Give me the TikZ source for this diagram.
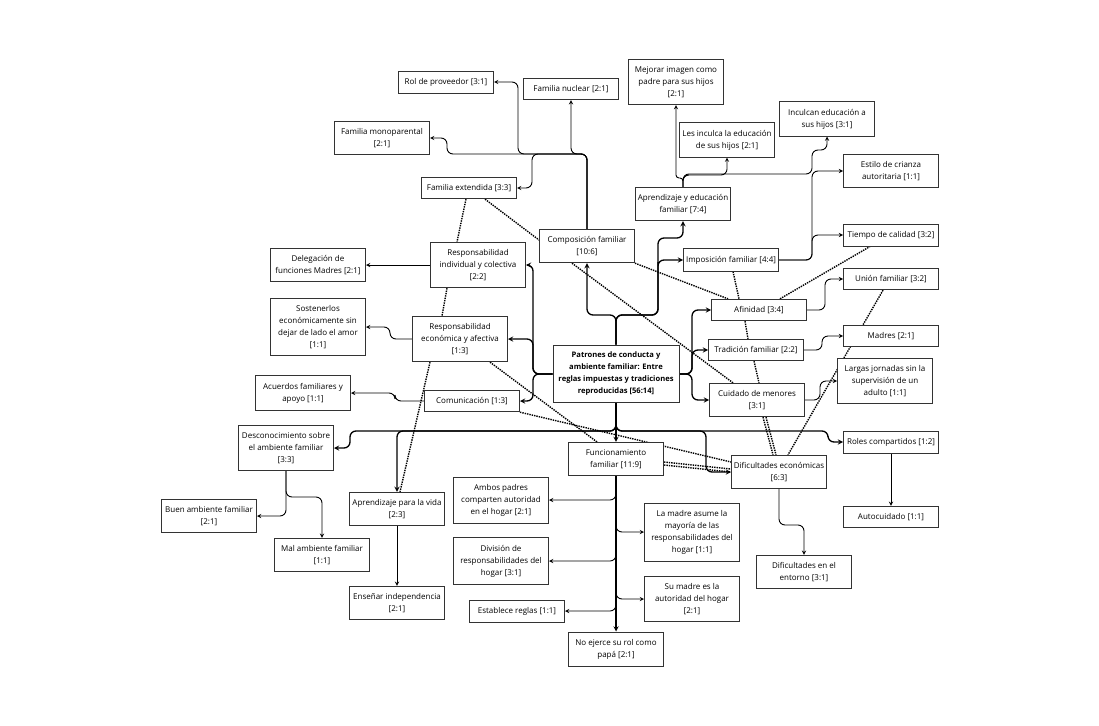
\documentclass[tikz,border=0pt]{standalone}
\usepackage{fontspec}
\setmainfont{Open Sans}
\usepackage{tikz}
\usetikzlibrary{backgrounds}

\begin{document}
\begin{tikzpicture}[x=1pt,y=-1pt,>=stealth,
    codebox/.style={draw=black!80,line width=1pt,fill=white,align=center,
      minimum width=95pt,inner xsep=2pt,inner ysep=7pt,
      font=\fontsize{8}{12}\selectfont},
    hubbox/.style={codebox,minimum width=126pt,
      font=\bfseries\fontsize{7.6}{12}\selectfont},
    link/.style={->,line width=0.9pt,rounded corners=6pt},
    trunk/.style={link,line width=1.3pt},
    assoc/.style={densely dotted,line width=1.4pt}]

  \useasboundingbox (0,0) rectangle (1099,725);

  % central code
  \node[hubbox] (central) at (616,374) {Patrones de conducta y\\ambiente familiar: Entre\\reglas impuestas y tradiciones\\reproducidas [56:14]};

  % upper part
  \node[codebox] (rol)      at (446,82)  {Rol de proveedor [3:1]};
  \node[codebox] (nuclear)  at (571,89)  {Familia nuclear [2:1]};
  \node[codebox] (mono)     at (382,138) {Familia monoparental\\{}[2:1]};
  \node[codebox] (ext)      at (469,188) {Familia extendida [3:3]};
  \node[codebox] (comp)     at (587,246) {Composición familiar\\{}[10:6]};
  \node[codebox] (mejorar)  at (676,82)  {Mejorar imagen como\\padre para sus hijos\\{}[2:1]};
  \node[codebox] (lesinc)   at (727,140) {Les inculca la educación\\de sus hijos [2:1]};
  \node[codebox] (inculcan) at (827,119) {Inculcan educación a\\sus hijos [3:1]};
  \node[codebox] (apred)    at (683,204) {Aprendizaje y educación\\familiar [7:4]};

  % right part
  \node[codebox] (estilo)  at (891,171) {Estilo de crianza\\autoritaria [1:1]};
  \node[codebox] (tiempo)  at (891,235) {Tiempo de calidad [3:2]};
  \node[codebox] (union)   at (891,279) {Unión familiar [3:2]};
  \node[codebox] (madres)  at (891,336) {Madres [2:1]};
  \node[codebox] (largas)  at (885,381) {Largas jornadas sin la\\supervisión de un\\adulto [1:1]};
  \node[codebox] (roles)   at (891,442) {Roles compartidos [1:2]};
  \node[codebox] (auto)    at (891,517) {Autocuidado [1:1]};
  \node[codebox] (impos)   at (731,260) {Imposición familiar [4:4]};
  \node[codebox] (afin)    at (759,310) {Afinidad [3:4]};
  \node[codebox] (trad)    at (756,350) {Tradición familiar [2:2]};
  \node[codebox] (cuidado) at (757,400) {Cuidado de menores\\{}[3:1]};
  \node[codebox] (difeco)  at (779,472) {Dificultades económicas\\{}[6:3]};
  \node[codebox] (entorno) at (804,572) {Dificultades en el\\entorno [3:1]};

  % left part
  \node[codebox] (respind)  at (478,265) {Responsabilidad\\individual y colectiva\\{}[2:2]};
  \node[codebox] (deleg)    at (318,265) {Delegación de\\funciones Madres [2:1]};
  \node[codebox] (respeco)  at (460,339) {Responsabilidad\\económica y afectiva\\{}[1:3]};
  \node[codebox] (sosten)   at (318,327) {Sostenerlos\\económicamente sin\\dejar de lado el amor\\{}[1:1]};
  \node[codebox] (comun)    at (472,401) {Comunicación [1:3]};
  \node[codebox] (acuerdos) at (303,393) {Acuerdos familiares y\\apoyo [1:1]};
  \node[codebox] (descon)   at (286,448) {Desconocimiento sobre\\el ambiente familiar\\{}[3:3]};
  \node[codebox] (buen)     at (209,516) {Buen ambiente familiar\\{}[2:1]};
  \node[codebox] (mal)      at (322,555) {Mal ambiente familiar\\{}[1:1]};
  \node[codebox] (aprvida)  at (397,509) {Aprendizaje para la vida\\{}[2:3]};
  \node[codebox] (ensenar)  at (397,603) {Enseñar independencia\\{}[2:1]};

  % lower part
  \node[codebox] (func)     at (616,459) {Funcionamiento\\familiar [11:9]};
  \node[codebox] (ambos)    at (501,500) {Ambos padres\\comparten autoridad\\en el hogar [2:1]};
  \node[codebox] (division) at (501,561) {División de\\responsabilidades del\\hogar [3:1]};
  \node[codebox] (estab)    at (517,611) {Establece reglas [1:1]};
  \node[codebox] (lamadre)  at (692,532) {La madre asume la\\mayoría de las\\responsabilidades del\\hogar [1:1]};
  \node[codebox] (sumadre)  at (692,599) {Su madre es la\\autoridad del hogar\\{}[2:1]};
  \node[codebox] (noejerce) at (616,649) {No ejerce su rol como\\papá [2:1]};

  \begin{scope}[on background layer]
    % links from the central code
    \draw[trunk] (central.north) -- (616,315) -| (comp.south);
    \draw[trunk] (central.north) -- (616,315) -| (658,268) |- (impos.west);
    \draw[trunk] (central.north) -- (616,315) -| (658,238) -| (apred.south);
    \draw[trunk] (central.west) -- (533,374) |- (respind.east);
    \draw[trunk] (central.west) -- (533,374) |- (respeco.east);
    \draw[trunk] (central.west) -- (533,374) |- (comun.east);
    \draw[trunk] (central.east) -- (692,374) |- (afin.west);
    \draw[trunk] (central.east) -- (692,374) |- (trad.west);
    \draw[trunk] (central.east) -- (692,374) |- (cuidado.west);
    \draw[trunk] (central.south) -- (func.north);
    \draw[trunk] (central.south) |- (350,431) |- (descon.east);
    \draw[trunk] (central.south) |- (397,431) -- (aprvida.north);
    \draw[trunk] (central.south) |- (828,431) |- (roles.west);
    \draw[trunk] (central.south) |- (706,431) |- (difeco.west);

    % composicion familiar
    \draw[link] (comp.north) |- (571,154) -- (nuclear.south);
    \draw[link] (comp.north) |- (518,154) |- (rol.east);
    \draw[link] (comp.north) |- (447,154) |- (mono.east);
    \draw[link] (comp.north) |- (532,154) |- (ext.east);

    % aprendizaje y educacion
    \draw[link,rounded corners=3pt] (apred.north) -- (683,178) -| (mejorar.south);
    \draw[link] (apred.north) |- (727,175) -- (lesinc.south);
    \draw[link] (apred.north) |- (812,174) |- (827,150) -- (inculcan.south);

    % right side
    \draw[link] (impos.east) -- (812,260) |- (tiempo.west);
    \draw[link] (impos.east) -- (812,260) |- (estilo.west);
    \draw[link] (afin.east) -- (825,310) |- (union.west);
    \draw[link] (trad.east) -- (822,350) |- (madres.west);
    \draw[link] (cuidado.east) -- (820,400) |- (largas.west);
    \draw[link] (roles.south) -- (auto.north);
    \draw[link] (difeco.south) |- (804,525) -- (entorno.north);

    % left side
    \draw[link] (respind.west) -- (deleg.east);
    \draw[link] (respeco.west) -- (390,339) |- (sosten.east);
    \draw[link] (comun.west) -- (395,401) |- (acuerdos.east);
    \draw[link] (descon.south) |- (buen.east);
    \draw[link] (descon.south) -- (286,497) -| (mal.north);
    \draw[link] (aprvida.south) -- (ensenar.north);

    % funcionamiento familiar
    \draw[trunk] (func.south) -- (noejerce.north);
    \draw[link] (func.south) |- (ambos.east);
    \draw[link] (func.south) |- (division.east);
    \draw[link] (func.south) |- (estab.east);
    \draw[link] (func.south) |- (lamadre.west);
    \draw[link] (func.south) |- (sumadre.west);

    % associations
    \draw[assoc] ([xshift=-3pt]ext.south) -- ([xshift=-21pt]respind.north);
    \draw[assoc] ([xshift=16pt]ext.south) -- ([yshift=6pt]comp.west);
    \draw[assoc] ([xshift=-31pt]respind.south) -- ([xshift=-18pt]respeco.north);
    \draw[assoc] ([xshift=-30pt]respeco.south) -- ([xshift=3pt]aprvida.north);
    \draw[assoc] ([xshift=30pt]respeco.south) -- ([xshift=-19pt]func.north);
    \draw[assoc] (comun.south east) -- ([yshift=10pt]difeco.west);
    \draw[assoc] ([yshift=-3pt]func.east) -- ([yshift=3pt]difeco.west);
    \draw[assoc] ([yshift=-6pt]func.east) -- (difeco.west);
    \draw[assoc] (comp.south east) -- ([xshift=-31pt]afin.north);
    \draw[assoc] ([xshift=-15pt]comp.south) -- ([xshift=-24pt]cuidado.north);
    \draw[assoc] ([xshift=2pt]impos.south) -- ([xshift=-20pt]afin.north);
    \draw[assoc] ([xshift=-14pt]afin.south) -- ([xshift=-8pt]trad.north);
    \draw[assoc] ([xshift=-2pt]trad.south) -- ([xshift=2pt]cuidado.north);
    \draw[assoc] ([xshift=21pt]afin.north) -- ([xshift=-21pt]tiempo.south);
    \draw[assoc] ([xshift=-8pt]union.south) -- ([xshift=9pt]difeco.north);
    \draw[assoc] ([xshift=6pt]cuidado.south) -- ([xshift=-6pt]difeco.north);
    \draw[assoc] ([xshift=9pt]cuidado.south) -- ([xshift=-3pt]difeco.north);
  \end{scope}
\end{tikzpicture}
\end{document}
